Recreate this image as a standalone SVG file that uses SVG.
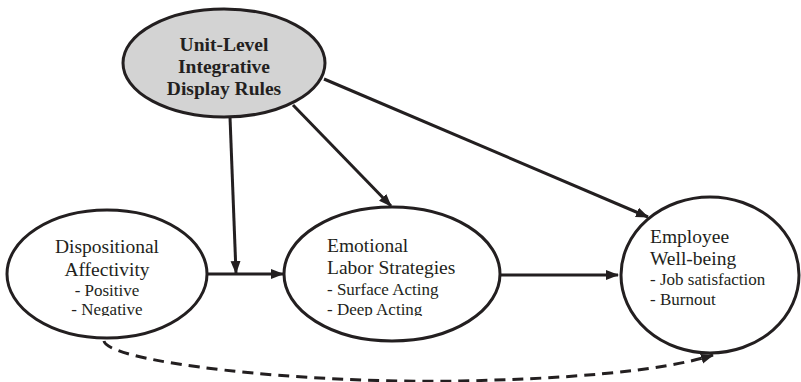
<svg xmlns="http://www.w3.org/2000/svg" width="801" height="382" viewBox="0 0 801 382">
<defs>
<style>
.node{fill:#ffffff;stroke:#231f20;stroke-width:3}
.gray{fill:#d3d3d3}
.t{font-family:"Liberation Serif","Times New Roman",serif;fill:#231f20}
.big{font-size:19.5px}
.sm{font-size:17px}
.b{font-weight:bold;font-size:19.5px}
.edge{fill:none;stroke:#231f20;stroke-width:3}
.dash{stroke-dasharray:11 7}
</style>
<marker id="ah" markerUnits="userSpaceOnUse" markerWidth="13" markerHeight="11" refX="12" refY="5" orient="auto">
<path d="M0,0 L13,5 L0,10 Z" fill="#231f20"/>
</marker>
<clipPath id="clipA"><rect x="0" y="0" width="801" height="316"/></clipPath>
</defs>
<rect width="801" height="382" fill="#ffffff"/>
<g id="connectors">
<path class="edge" d="M230,117 L236,273" marker-end="url(#ah)"/>
<path class="edge" d="M207,274 L283,274" marker-end="url(#ah)"/>
<path class="edge" d="M293,105 L391,206" marker-end="url(#ah)"/>
<path class="edge" d="M324,79 L648,217" marker-end="url(#ah)"/>
<path class="edge" d="M501,275 L618,275" marker-end="url(#ah)"/>
<path class="edge dash" d="M104,341 C108,362 300,384 460,381 C560,379 660,372 713,355" marker-end="url(#ah)"/>
</g>
<g id="unit-level">
<ellipse class="node gray" cx="224" cy="63" rx="101" ry="54"/>
<text class="t b" x="224" y="51" text-anchor="middle">Unit-Level</text>
<text class="t b" x="224" y="73" text-anchor="middle">Integrative</text>
<text class="t b" x="224" y="95" text-anchor="middle">Display Rules</text>
</g>
<g id="dispositional">
<ellipse class="node" cx="107" cy="274" rx="100" ry="64"/>
<g clip-path="url(#clipA)">
<text class="t big" x="107" y="253" text-anchor="middle">Dispositional</text>
<text class="t big" x="107" y="276" text-anchor="middle">Affectivity</text>
<text class="t sm" x="107" y="296" text-anchor="middle">- Positive</text>
<text class="t sm" x="107" y="315" text-anchor="middle">- Negative</text>
</g>
</g>
<g id="emotional-labor">
<ellipse class="node" cx="392" cy="274" rx="108" ry="67"/>
<g clip-path="url(#clipA)">
<text class="t big" x="327" y="252">Emotional</text>
<text class="t big" x="327" y="274">Labor Strategies</text>
<text class="t sm" x="327" y="295">- Surface Acting</text>
<text class="t sm" x="327" y="315">- Deep Acting</text>
</g>
</g>
<g id="well-being">
<ellipse class="node" cx="710" cy="275" rx="89" ry="78"/>
<text class="t big" x="650" y="243">Employee</text>
<text class="t big" x="650" y="265">Well-being</text>
<text class="t sm" x="650" y="285">- Job satisfaction</text>
<text class="t sm" x="650" y="305">- Burnout</text>
</g>
</svg>
